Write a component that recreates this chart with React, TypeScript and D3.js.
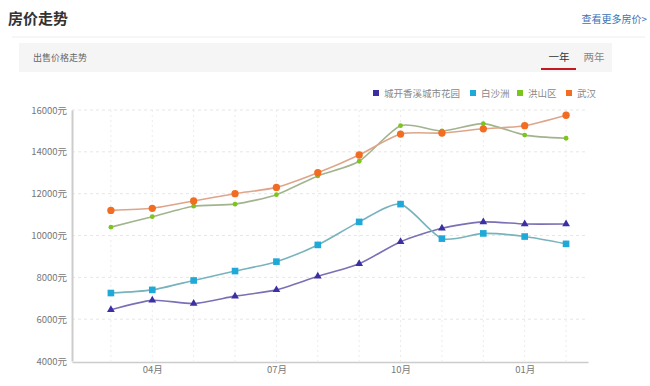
import React, { useEffect, useRef } from "react";
import * as d3 from "d3";

// months from 03月 to next 02月
const months = ["03月", "04月", "05月", "06月", "07月", "08月", "09月", "10月", "11月", "12月", "01月", "02月"];
const tickMonths = ["04月", "07月", "10月", "01月"];
const yTicks = [4000, 6000, 8000, 10000, 12000, 14000, 16000];

const chengkai = [6450, 6900, 6750, 7100, 7400, 8050, 8650, 9700, 10350, 10650, 10550, 10550];
const baishazhou = [7250, 7400, 7850, 8300, 8750, 9550, 10650, 11500, 9850, 10100, 9950, 9600];
const hongshan = [10400, 10900, 11400, 11500, 11950, 12850, 13550, 15250, 15000, 15350, 14800, 14650];
const wuhan = [11200, 11300, 11650, 12000, 12300, 13000, 13850, 14850, 14900, 15100, 15250, 15750];

const seriesNames = ["城开香溪城市花园", "白沙洲", "洪山区", "武汉"];
const seriesColors = ["#3b2fa3", "#1fa9d8", "#7cc51f", "#f26d21"];
const lineColors = ["#7a70b4", "#78b3bd", "#a2b48e", "#dea58a"];

const FONT = "'Noto Sans CJK SC', 'Noto Sans', sans-serif";

const App = () => {
    const ref = useRef(null);

    useEffect(() => {
        const root = d3.select(ref.current);
        root.selectAll("*").remove();

        const svg = root.append("svg")
            .attr("width", 650)
            .attr("height", 386)
            .style("position", "absolute")
            .style("left", 0)
            .style("top", 0)
            .style("font-family", FONT);

        svg.append("rect").attr("width", 650).attr("height", 386).attr("fill", "#fff");

        // header
        svg.append("text")
            .attr("x", 8).attr("y", 24)
            .attr("font-size", 15).attr("font-weight", "bold").attr("fill", "#333")
            .text("房价走势");
        svg.append("text")
            .attr("x", 647).attr("y", 23)
            .attr("text-anchor", "end")
            .attr("font-size", 10).attr("fill", "#3a72b8")
            .text("查看更多房价>");
        svg.append("line")
            .attr("x1", 12).attr("x2", 645).attr("y1", 37).attr("y2", 37)
            .attr("stroke", "#eeeeee");

        // tab band
        svg.append("rect")
            .attr("x", 19).attr("y", 43).attr("width", 593).attr("height", 29)
            .attr("fill", "#f5f5f5");
        svg.append("text")
            .attr("x", 33).attr("y", 61)
            .attr("font-size", 9).attr("fill", "#666")
            .text("出售价格走势");
        svg.append("text")
            .attr("x", 559).attr("y", 61).attr("text-anchor", "middle")
            .attr("font-size", 10.5).attr("fill", "#333")
            .text("一年");
        svg.append("rect")
            .attr("x", 541).attr("y", 68).attr("width", 35).attr("height", 2)
            .attr("fill", "#c6161f");
        svg.append("text")
            .attr("x", 594).attr("y", 61).attr("text-anchor", "middle")
            .attr("font-size", 10.5).attr("fill", "#888")
            .text("两年");

        // scales
        const x = d3.scaleLinear().domain([-0.94, 11.53]).range([72, 588]);
        const y = d3.scaleLinear().domain([4000, 16000]).range([361, 110]);

        // grid
        const grid = svg.append("g");
        grid.selectAll(".hg")
            .data(yTicks.slice(1))
            .enter().append("line")
            .attr("x1", 72).attr("x2", 588)
            .attr("y1", d => y(d)).attr("y2", d => y(d))
            .attr("stroke", "#e6e6e6")
            .attr("stroke-dasharray", "3,3");
        grid.selectAll(".vg")
            .data(months)
            .enter().append("line")
            .attr("x1", (d, i) => x(i)).attr("x2", (d, i) => x(i))
            .attr("y1", 110).attr("y2", 361)
            .attr("stroke", "#ececec")
            .attr("stroke-dasharray", "2,3");

        // axes
        const yAxis = svg.append("g")
            .attr("transform", "translate(72,0)")
            .call(d3.axisLeft(y).tickValues(yTicks).tickSize(0).tickPadding(5).tickFormat(d => `${d}元`));
        yAxis.select(".domain").attr("stroke", "#cccccc").attr("stroke-width", 2);
        yAxis.selectAll("text").attr("font-size", 9.5).attr("fill", "#777").attr("font-family", FONT);

        const xAxis = svg.append("g")
            .attr("transform", "translate(0,362)")
            .call(d3.axisBottom(x)
                .tickValues(tickMonths.map(m => months.indexOf(m)))
                .tickSize(0).tickPadding(4)
                .tickFormat(d => months[d]));
        xAxis.select(".domain").attr("stroke", "#cccccc").attr("stroke-width", 1.5);
        xAxis.selectAll("text").attr("font-size", 9.5).attr("fill", "#777").attr("font-family", FONT);

        // lines
        const allSeries = [chengkai, baishazhou, hongshan, wuhan];
        const line = d3.line()
            .x((d, i) => x(i))
            .y(d => y(d))
            .curve(d3.curveCardinal.tension(0.3));

        const symbols = [d3.symbolTriangle, d3.symbolSquare, d3.symbolCircle, d3.symbolCircle];
        const symbolSizes = [26, 44, 18, 42];

        allSeries.forEach((vals, s) => {
            svg.append("path")
                .datum(vals)
                .attr("d", line)
                .attr("fill", "none")
                .attr("stroke", lineColors[s])
                .attr("stroke-width", 1.6);
        });
        allSeries.forEach((vals, s) => {
            svg.append("g").selectAll("path")
                .data(vals)
                .enter().append("path")
                .attr("transform", (d, i) => `translate(${x(i)},${y(d)})`)
                .attr("d", d3.symbol().type(symbols[s]).size(symbolSizes[s]))
                .attr("fill", seriesColors[s]);
        });

        // legend
        const legendX = [373, 470, 517, 566];
        const legend = svg.append("g");
        seriesNames.forEach((name, s) => {
            legend.append("rect")
                .attr("x", legendX[s]).attr("y", 90).attr("width", 6).attr("height", 6)
                .attr("fill", seriesColors[s]);
            legend.append("text")
                .attr("x", legendX[s] + 11).attr("y", 96.5)
                .attr("font-size", 9.5).attr("fill", "#888")
                .text(name);
        });
    }, []);

    return <div ref={ref} />;
};

export default App;
